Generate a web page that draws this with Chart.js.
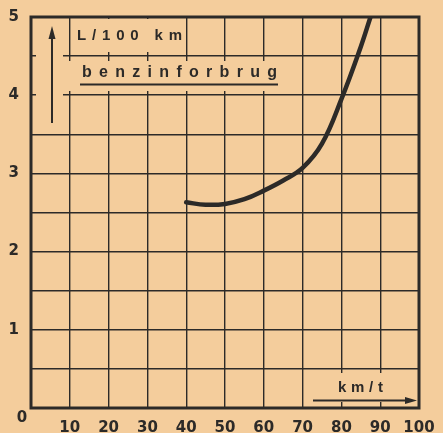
<!DOCTYPE html>
<html>
<head>
<meta charset="utf-8">
<script src="https://cdn.jsdelivr.net/npm/chart.js@4/dist/chart.umd.min.js"></script>
<style>
html,body{margin:0;padding:0;background:#f4cd9c;}
#wrap{width:443px;height:433px;}
</style>
</head>
<body>
<div id="wrap"><canvas id="c" width="443" height="433"></canvas></div>
<script>
// Data
const speeds = [40, 45, 50, 55, 60, 65, 70, 75, 80, 85, 87.5];
const consumption = [2.63, 2.60, 2.61, 2.67, 2.78, 2.91, 3.07, 3.38, 3.95, 4.62, 5.0];
const xTicks = [0, 10, 20, 30, 40, 50, 60, 70, 80, 90, 100];
const yTicks = [0, 1, 2, 3, 4, 5];
const yLabel = 'L/100 km';
const titleLabel = 'benzinforbrug';
const xLabel = 'km/t';

const BG = '#f4cd9c';
const INK = '#2c2a28';
const FONT = '"Liberation Sans", Arial, sans-serif';
const NUMFONT = '"DejaVu Sans", sans-serif';

function spaced(ctx, text, x0, x1, y) {
  const chars = [...text];
  const widths = chars.map(c => ctx.measureText(c).width);
  const total = widths.reduce((a, b) => a + b, 0);
  const gap = chars.length > 1 ? ((x1 - x0) - total) / (chars.length - 1) : 0;
  let x = x0;
  ctx.textAlign = 'left';
  chars.forEach((c, i) => { ctx.fillText(c, x, y); x += widths[i] + gap; });
}

const deco = {
  id: 'deco',
  beforeDraw(chart) {
    const ctx = chart.ctx;
    ctx.save();
    ctx.fillStyle = BG;
    ctx.fillRect(0, 0, chart.width, chart.height);
    ctx.restore();
  },
  beforeDatasetsDraw(chart) {
    const ctx = chart.ctx;
    const a = chart.chartArea;
    ctx.save();
    ctx.fillStyle = BG;
    // cleared boxes behind annotations
    ctx.fillRect(a.left + 5, a.top + 2, 27, 82);      // arrow box
    ctx.fillRect(a.left + 42, a.top + 2, 111, 33);    // L/100 km box
    ctx.fillRect(a.left + 35, a.top + 44, 215, 30);   // benzinforbrug box
    ctx.fillRect(a.right - 107, a.bottom - 35, 104, 29); // km/t box
    // outer frame
    ctx.strokeStyle = INK;
    ctx.lineWidth = 3;
    ctx.strokeRect(a.left, a.top, a.right - a.left, a.bottom - a.top);
    ctx.restore();
  },
  afterDatasetsDraw(chart) {
    const ctx = chart.ctx;
    const a = chart.chartArea;
    ctx.save();
    ctx.fillStyle = INK;
    ctx.strokeStyle = INK;
    ctx.textBaseline = 'middle';
    // y label
    ctx.font = 'bold 15px ' + FONT;
    spaced(ctx, yLabel, a.left + 46, a.left + 151, a.top + 19);
    // title
    ctx.font = 'bold 16px ' + FONT;
    spaced(ctx, titleLabel, a.left + 51, a.left + 246, a.top + 56);
    ctx.lineWidth = 2;
    ctx.beginPath();
    ctx.moveTo(a.left + 49, a.top + 67.5);
    ctx.lineTo(a.left + 247, a.top + 67.5);
    ctx.stroke();
    // up arrow
    const ax = a.left + 21;
    ctx.lineWidth = 2;
    ctx.beginPath();
    ctx.moveTo(ax, a.top + 106);
    ctx.lineTo(ax, a.top + 18);
    ctx.stroke();
    ctx.beginPath();
    ctx.moveTo(ax, a.top + 9);
    ctx.lineTo(ax - 3.5, a.top + 22);
    ctx.lineTo(ax + 3.5, a.top + 22);
    ctx.closePath();
    ctx.fill();
    // x label
    ctx.font = 'bold 15px ' + FONT;
    spaced(ctx, xLabel, a.right - 81, a.right - 36, a.bottom - 20);
    const ay = a.bottom - 7.5;
    ctx.lineWidth = 2;
    ctx.beginPath();
    ctx.moveTo(a.right - 106, ay);
    ctx.lineTo(a.right - 12, ay);
    ctx.stroke();
    ctx.beginPath();
    ctx.moveTo(a.right - 2, ay);
    ctx.lineTo(a.right - 14, ay - 3.5);
    ctx.lineTo(a.right - 14, ay + 3.5);
    ctx.closePath();
    ctx.fill();
    // shared origin label
    ctx.font = 'bold 15px ' + NUMFONT;
    ctx.textAlign = 'center';
    ctx.fillText(String(xTicks[0]), a.left - 9, a.bottom + 10);
    ctx.restore();
  }
};

new Chart(document.getElementById('c'), {
  type: 'line',
  data: {
    datasets: [{
      data: speeds.map((s, i) => ({ x: s, y: consumption[i] })),
      borderColor: INK,
      borderWidth: 4.5,
      pointRadius: 0,
      tension: 0.4,
      fill: false,
      borderCapStyle: 'round'
    }]
  },
  options: {
    responsive: false,
    animation: false,
    devicePixelRatio: 1,
    layout: { padding: { top: 17, right: 24, left: 0, bottom: 0 } },
    plugins: { legend: { display: false }, tooltip: { enabled: false } },
    scales: {
      x: {
        type: 'linear',
        min: xTicks[0], max: xTicks[xTicks.length - 1],
        afterBuildTicks: s => { s.ticks = xTicks.map(v => ({ value: v })); },
        afterFit: s => { s.height = 25; s.paddingLeft = 0; s.paddingRight = 0; },
        grid: { color: INK, lineWidth: 1.4, drawTicks: false },
        border: { display: false },
        ticks: {
          padding: 11,
          color: INK,
          font: { family: NUMFONT, size: 15, weight: 'bold' },
          maxRotation: 0,
          autoSkip: false,
          callback: v => (v === 0 ? '' : String(v))
        }
      },
      y: {
        type: 'linear',
        min: yTicks[0], max: yTicks[yTicks.length - 1],
        ticks: {
          stepSize: 0.5,
          padding: 12,
          color: INK,
          font: { family: NUMFONT, size: 15, weight: 'bold' },
          autoSkip: false,
          callback: v => (v === 0 || !yTicks.includes(v) ? '' : String(v))
        },
        afterFit: s => { s.width = 31; s.paddingTop = 0; s.paddingBottom = 0; },
        grid: { color: INK, lineWidth: 1.4, drawTicks: false },
        border: { display: false }
      }
    }
  },
  plugins: [deco]
});
</script>
</body>
</html>
